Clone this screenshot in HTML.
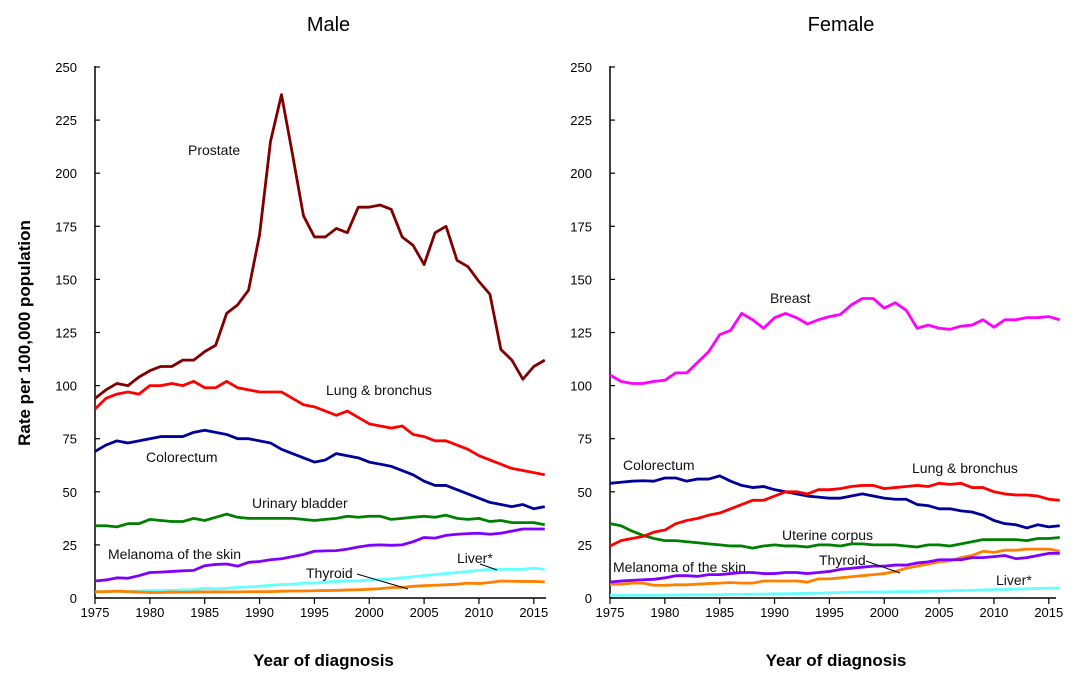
<!DOCTYPE html>
<html><head><meta charset="utf-8"><style>
body{margin:0;background:#fff;}
svg{display:block;font-family:"Liberation Sans",Arial,sans-serif;}
</style></head><body>
<svg id="c" width="1080" height="681" viewBox="0 0 1080 681"></svg>
<script>
const years=[];for(let y=1975;y<=2016;y++)years.push(y);
const maleProstate=[94,98,101,100,104,107,109,109,112,112,116,119,134,138,145,171,215,237,209,180,170,170,174,172,184,184,185,183,170,166,157,172,175,159,156,149,143,117,112,103,109,112];
const maleLung=[89,94,96,97,96,100,100,101,100,102,99,99,102,99,98,97,97,97,94,91,90,88,86,88,85,82,81,80,81,77,76,74,74,72,70,67,65,63,61,60,59,58];
const maleColorectum=[69,72,74,73,74,75,76,76,76,78,79,78,77,75,75,74,73,70,68,66,64,65,68,67,66,64,63,62,60,58,55,53,53,51,49,47,45,44,43,44,42,43];
const maleBladder=[34,34,33.5,35,35,37,36.5,36,36,37.5,36.5,38,39.5,38,37.5,37.5,37.5,37.5,37.5,37,36.5,37,37.5,38.5,38,38.5,38.5,37,37.5,38,38.5,38,39,37.5,37,37.5,36,36.5,35.5,35.5,35.5,34.5];
const maleMelanoma=[8,8.5,9.5,9.3,10.5,12,12.2,12.5,12.8,13,15.2,15.8,16,15,16.8,17.2,18,18.5,19.5,20.5,22,22.2,22.3,23,24,24.8,25,24.8,25,26.5,28.5,28.2,29.5,30,30.3,30.5,30,30.5,31.5,32.5,32.5,32.5];
const maleLiver=[2.8,3,3.2,3,3.3,3.5,3.5,3.6,3.8,3.9,4.5,4.3,4.5,5,5.2,5.5,6,6.3,6.5,7,7,7.6,7.8,8,8,8.5,8.7,9,9.5,10,10.5,11,11.5,12,12.5,13,13.5,13.5,13.5,13.5,14,13.5];
const maleThyroid=[3,3,3.2,3,2.8,2.6,2.6,2.8,2.7,2.8,2.9,2.9,2.9,2.9,3,3,3,3.2,3.3,3.3,3.4,3.5,3.6,3.8,3.9,4.1,4.4,4.9,5,5.5,5.8,6,6.2,6.5,7,6.8,7.3,8,7.9,7.8,7.8,7.6];
const femBreast=[105,102,101,101,102,102.5,106,106,111,116,124,126,134,131,127,132,134,132,129,131,132.5,133.5,138,141,141,136.5,139,135.5,127,128.5,127,126.5,128,128.5,131,127.5,131,131,132,132,132.5,131];
const femLung=[24.5,27,28,29,31,32,35,36.5,37.5,39,40,42,44,46,46,48,50,50,49,51,51,51.5,52.5,53,53,51.5,52,52.5,53,52.5,54,53.5,54,52,52,50,49,48.5,48.5,48,46.5,46];
const femColorectum=[54,54.5,55,55.2,55,56.5,56.5,55,56,56,57.5,55,53,52,52.5,51,50,49,48,47.5,47,47,48,49,48,47,46.5,46.5,44,43.5,42,42,41,40.5,39,36.5,35,34.5,33,34.5,33.5,34];
const femUterine=[35,34,31.5,29.5,28,27,27,26.5,26,25.5,25,24.5,24.5,23.5,24.5,25,24.5,24.5,24,25,25,24.5,25.5,25.5,25,25,25,24.5,24,25,25,24.5,25.5,26.5,27.5,27.5,27.5,27.5,27,28,28,28.5];
const femMelanoma=[7.5,8,8.3,8.6,8.8,9.5,10.5,10.5,10.2,11,11,11.5,12,12,11.5,11.5,12,12,11.5,12,12.5,13.5,14,14.5,15,15,15.5,15.5,16.5,17,18,18,18,19,19,19.5,20,18.5,19,20,21,21];
const femThyroid=[6.5,6.5,7,7,6,6,6.2,6.2,6.5,6.8,7,7.3,7,7,8,8,8,8,7.5,9,9,9.5,10,10.5,11,11.5,12.5,14,15,16,17,17.5,19,20,22,21.5,22.5,22.5,23,23,23,22];
const femLiver=[1.3,1.3,1.3,1.3,1.3,1.4,1.4,1.5,1.5,1.5,1.6,1.7,1.7,1.8,1.8,2,2,2.1,2.2,2.3,2.4,2.6,2.7,2.8,2.8,2.9,3,3,3,3.2,3.3,3.4,3.5,3.6,3.8,4,4,4.2,4.3,4.5,4.6,4.8];
const yTicks=[0,25,50,75,100,125,150,175,200,225,250];
const xTicks=[1975,1980,1985,1990,1995,2000,2005,2010,2015];

const svg=document.getElementById('c');
const NS='http://www.w3.org/2000/svg';
function mk(tag,attrs,parent){const e=document.createElementNS(NS,tag);for(const k in attrs)e.setAttribute(k,attrs[k]);(parent||svg).appendChild(e);return e;}
const Y0=598,YK=531/250;
function yS(v){return Y0-v*YK;}

function panel(name,x0,x1,title,series,labels,leaders){
  const g=mk('g',{});
  
  
  const xS=y=>x0+(y-1975)*10.97;
  const t=mk('text',{x:(x0+x1)/2+8,y:31,'font-size':20,'text-anchor':'middle',fill:'#000'},g);t.textContent=title;
  
  
  mk('line',{x1:x0,y1:yS(250)-1,x2:x0,y2:Y0,stroke:'#000','stroke-width':1.5},g);
  mk('line',{x1:x0,y1:Y0,x2:x1,y2:Y0,stroke:'#000','stroke-width':1.5},g);
  yTicks.forEach(v=>{
    mk('line',{x1:x0,y1:yS(v),x2:x0+5,y2:yS(v),stroke:'#000','stroke-width':1.2},g);
    const tl=mk('text',{x:x0-18,y:yS(v)+5,'font-size':13,'text-anchor':'end'},g);tl.textContent=v;
    
    
  });
  xTicks.forEach(v=>{
    mk('line',{x1:xS(v),y1:Y0,x2:xS(v),y2:Y0+6,stroke:'#000','stroke-width':1.2},g);
    const tl=mk('text',{x:xS(v),y:Y0+19,'font-size':13,'text-anchor':'middle'},g);tl.textContent=v;
    
    
  });
  const xt=mk('text',{x:(x0+x1)/2+3,y:666,'font-size':17,'font-weight':'bold','text-anchor':'middle'},g);xt.textContent='Year of diagnosis';
  
  
  series.forEach(s=>{
    const p=mk('polyline',{points:s.v.map((v,i)=>xS(years[i])+','+yS(v)).join(' '),fill:'none',stroke:s.c,'stroke-width':2.8,'stroke-linejoin':'round'},g);
    
    
  });
  leaders.forEach(l=>mk('line',{x1:l[0],y1:l[1],x2:l[2],y2:l[3],stroke:'#000','stroke-width':1},g));
  labels.forEach(l=>{
    const tl=mk('text',{x:l[1],y:l[2],'font-size':14,fill:'#111'},g);tl.textContent=l[0];
    
    
  });
}
panel('male',95,546,'Male',[
 {n:'liver',c:'#66ffff',v:maleLiver},
 {n:'thyroid',c:'#ff8000',v:maleThyroid},
 {n:'melanoma',c:'#8000ff',v:maleMelanoma},
 {n:'bladder',c:'#008000',v:maleBladder},
 {n:'colorectum',c:'#000099',v:maleColorectum},
 {n:'lung',c:'#ff0000',v:maleLung},
 {n:'prostate',c:'#800000',v:maleProstate}],
 [['Prostate',188,155],['Lung & bronchus',326,395],['Colorectum',146,462],['Urinary bladder',252,508],['Melanoma of the skin',108,559],['Thyroid',306,578],['Liver*',457,563]],
 [[357,574,408,589],[480,564,497,570]]);
panel('female',610,1056,'Female',[
 {n:'liver',c:'#66ffff',v:femLiver},
 {n:'thyroid',c:'#ff8000',v:femThyroid},
 {n:'melanoma',c:'#8000ff',v:femMelanoma},
 {n:'uterine',c:'#008000',v:femUterine},
 {n:'colorectum',c:'#000099',v:femColorectum},
 {n:'lung',c:'#ff0000',v:femLung},
 {n:'breast',c:'#ff00ff',v:femBreast}],
 [['Breast',770,303],['Colorectum',623,470],['Lung & bronchus',912,473],['Uterine corpus',782,540],['Melanoma of the skin',613,572],['Thyroid',819,565],['Liver*',996,585]],
 [[866,561,900,573]]);
const yt=mk('text',{x:0,y:0,'font-size':17,'font-weight':'bold','text-anchor':'middle',transform:'translate(30,333) rotate(-90)'});
yt.textContent='Rate per 100,000 population';


</script>
</body></html>
